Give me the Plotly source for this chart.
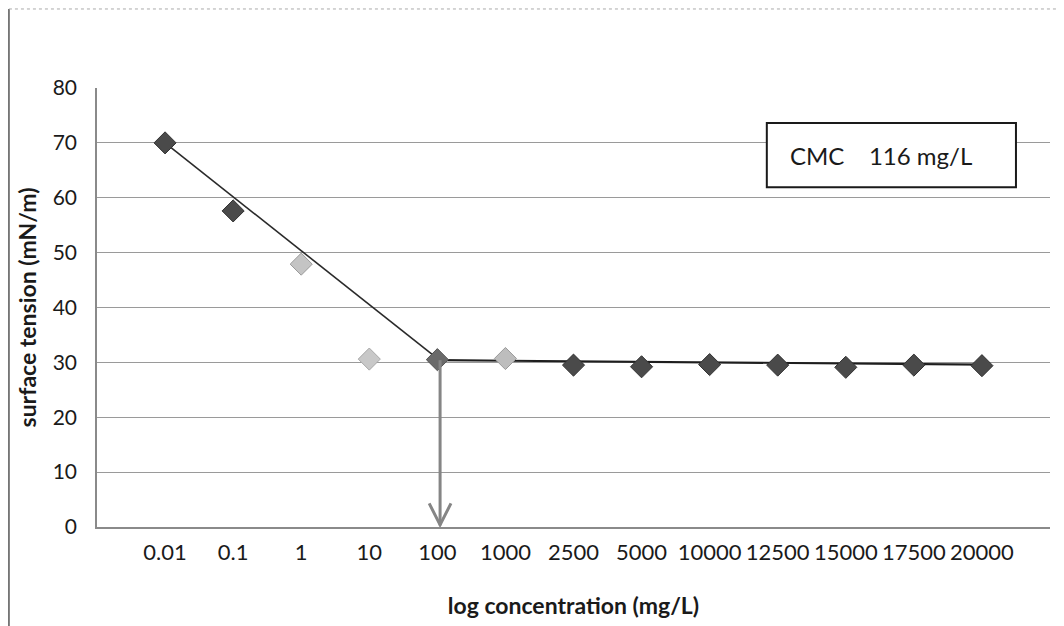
import plotly.graph_objects as go

categories = ["0.01", "0.1", "1", "10", "100", "1000", "2500", "5000",
              "10000", "12500", "15000", "17500", "20000"]
surface_tension = [70.0, 57.6, 47.9, 30.6, 30.5, 30.7, 29.5, 29.2, 29.6, 29.5, 29.1, 29.5, 29.4]
marker_fill = ["#4a4a4a", "#4a4a4a", "#c4c4c4", "#c8c8c8", "#6a6a6a", "#bdbdbd", "#4a4a4a",
               "#4a4a4a", "#4a4a4a", "#4a4a4a", "#4a4a4a", "#4a4a4a", "#4a4a4a"]
marker_edge = ["#333333", "#333333", "#9a9a9a", "#a8a8a8", "#555555", "#9a9a9a", "#333333",
               "#333333", "#333333", "#333333", "#333333", "#333333", "#333333"]

# fitted lines (category-position units)
slope_x = [1, 5.04]
slope_y = [70.0, 30.3]
flat_x = [5.04, 13.05]
flat_y = [30.4, 29.6]
cmc_pos = 5.04
cmc_text = "CMC    116 mg/L"

xpos = list(range(1, len(categories) + 1))

fig = go.Figure()
fig.add_trace(go.Scatter(x=slope_x, y=slope_y, mode="lines",
                         line=dict(color="#2a2a2a", width=1.6), showlegend=False))
fig.add_trace(go.Scatter(x=flat_x, y=flat_y, mode="lines",
                         line=dict(color="#1e1e1e", width=2.2), showlegend=False))

# arrow down to the x axis at the CMC (open V head)
fig.add_shape(type="line", xref="x", yref="y", x0=cmc_pos, x1=cmc_pos, y0=flat_y[0], y1=0.3,
              line=dict(color="#858585", width=3))
fig.add_shape(type="path", xref="x", yref="y",
              path=f"M {cmc_pos - 0.16},4.3 L {cmc_pos},0.4 L {cmc_pos + 0.16},4.3",
              line=dict(color="#858585", width=3))

fig.add_trace(go.Scatter(x=xpos, y=surface_tension, mode="markers",
                         marker=dict(symbol="diamond", size=17, color=marker_fill,
                                     line=dict(color=marker_edge, width=1)),
                         showlegend=False))

# CMC box
fig.add_shape(type="rect", x0=9.84, x1=13.5, y0=61.9, y1=73.6, xref="x", yref="y",
              fillcolor="white", line=dict(color="#1a1a1a", width=2), layer="above")
fig.add_annotation(x=11.52, y=67.7, xref="x", yref="y", text=cmc_text, showarrow=False,
                   font=dict(family="Lato", size=24, color="#1a1a1a"))

# chart-area frame (scan border)
fig.add_shape(type="line", xref="paper", yref="paper", x0=-0.0924, x1=-0.0924, y0=-0.23, y1=1.18,
              line=dict(color="#555555", width=1.5))
fig.add_shape(type="line", xref="paper", yref="paper", x0=-0.0924, x1=1.02, y0=1.18, y1=1.18,
              line=dict(color="#aaaaaa", width=1, dash="dot"))

fig.update_layout(
    width=1056, height=618,
    margin=dict(l=89, r=14, t=80, b=99),
    paper_bgcolor="white", plot_bgcolor="white",
    font=dict(family="Lato", color="#1a1a1a"),
    xaxis=dict(range=[0, 14], tickvals=xpos, ticktext=categories, automargin=False,
               showgrid=False, zeroline=False, showline=True, linecolor="#8a8a8a",
               linewidth=1.5, ticks="", tickfont=dict(size=22, color="#1a1a1a"),
               ticklabelstandoff=5,
               title=dict(text="<b>log concentration (mg/L)</b>", font=dict(size=23), standoff=34)),
    yaxis=dict(range=[0, 80], dtick=10, showgrid=True, gridcolor="#9a9a9a", gridwidth=1.2,
               zeroline=False, showline=True, linecolor="#8a8a8a", linewidth=1.5, automargin=False,
               ticks="", tickfont=dict(size=21, color="#1a1a1a"), ticklabelstandoff=14,
               title=dict(text="<b>surface tension (mN/m)</b>", font=dict(size=23), standoff=10)),
)

fig.write_html("out.html")
